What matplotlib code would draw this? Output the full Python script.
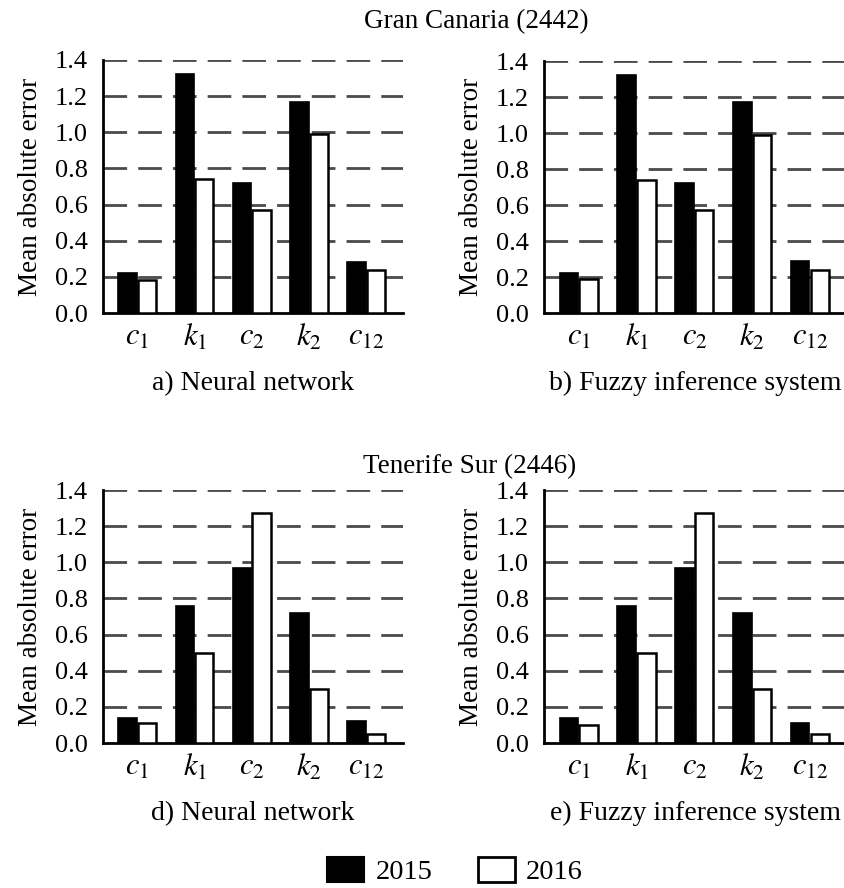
import numpy as np
import matplotlib
matplotlib.use("Agg")
import matplotlib.pyplot as plt
from matplotlib.patches import Patch

plt.rcParams['font.family'] = ['Liberation Serif', 'DejaVu Serif']
plt.rcParams['mathtext.fontset'] = 'stix'

# parametros estimados y anos
params = [r'$c_1$', r'$k_1$', r'$c_2$', r'$k_2$', r'$c_{12}$']
years = ['2015', '2016']

# Gran Canaria (2442)
gc_nn_2015 = [0.22, 1.32, 0.72, 1.17, 0.28]
gc_nn_2016 = [0.18, 0.74, 0.57, 0.99, 0.24]
gc_fis_2015 = [0.22, 1.32, 0.72, 1.17, 0.29]
gc_fis_2016 = [0.19, 0.74, 0.57, 0.99, 0.24]

# Tenerife Sur (2446)
ts_nn_2015 = [0.14, 0.76, 0.97, 0.72, 0.12]
ts_nn_2016 = [0.11, 0.50, 1.27, 0.30, 0.05]
ts_fis_2015 = [0.14, 0.76, 0.97, 0.72, 0.11]
ts_fis_2016 = [0.10, 0.50, 1.27, 0.30, 0.05]

yticks = [0.0, 0.2, 0.4, 0.6, 0.8, 1.0, 1.2, 1.4]

W, H = 845.0, 888.0
fig = plt.figure(figsize=(W / 100, H / 100), dpi=100)


def panel(x0, x1, y0, y1, a, b, sub):
    ax = fig.add_axes([x0 / W, 1 - y1 / H, (x1 - x0) / W, (y1 - y0) / H])
    x = np.arange(len(params))
    w = 0.32
    ax.bar(x - 0.17, a, w, color='black', edgecolor='black', linewidth=1.2, zorder=3)
    ax.bar(x + 0.17, b, w, color='white', edgecolor='black', linewidth=1.8, zorder=3)
    ax.set_xlim(-0.6, 4.64)
    ax.set_ylim(0, 1.4)
    ax.set_yticks(yticks)
    ax.set_yticklabels(['%.1f' % v for v in yticks])
    ax.set_xticks(x)
    ax.set_xticklabels(params)
    ax.tick_params(length=0)
    ax.tick_params(axis='y', labelsize=19, pad=11)
    ax.tick_params(axis='x', labelsize=22, pad=7)
    for t in yticks[1:]:
        ax.axhline(t, color='#4a4a4a', linewidth=2, dashes=(8.5, 4), zorder=1)
    for s in ['top', 'right']:
        ax.spines[s].set_visible(False)
    for s in ['left', 'bottom']:
        ax.spines[s].set_linewidth(2)
    ax.set_ylabel('Mean absolute error', fontsize=19.5, labelpad=8)
    ax.set_xlabel(sub, fontsize=20, labelpad=13)
    return ax


panel(103, 403, 60, 313, gc_nn_2015, gc_nn_2016, 'a) Neural network')
panel(544, 847, 61, 313, gc_fis_2015, gc_fis_2016, 'b) Fuzzy inference system')
panel(103, 403, 490, 743, ts_nn_2015, ts_nn_2016, 'd) Neural network')
panel(544, 847, 490, 743, ts_fis_2015, ts_fis_2016, 'e) Fuzzy inference system')

fig.text(476 / W, 1 - 22 / H, 'Gran Canaria (2442)', ha='center', va='center', fontsize=19.5)
fig.text(470 / W, 1 - 467 / H, 'Tenerife Sur (2446)', ha='center', va='center', fontsize=19.5)

handles = [Patch(facecolor='black', edgecolor='black', linewidth=1.5),
           Patch(facecolor='white', edgecolor='black', linewidth=2)]
fig.legend(handles, years, loc='center', bbox_to_anchor=(455 / W, 1 - 871 / H),
           ncol=2, frameon=False, fontsize=20.5, handlelength=1.3, handleheight=0.95,
           columnspacing=1.6, handletextpad=0.4, borderpad=0.2)

fig.savefig('out.png', dpi=100)
